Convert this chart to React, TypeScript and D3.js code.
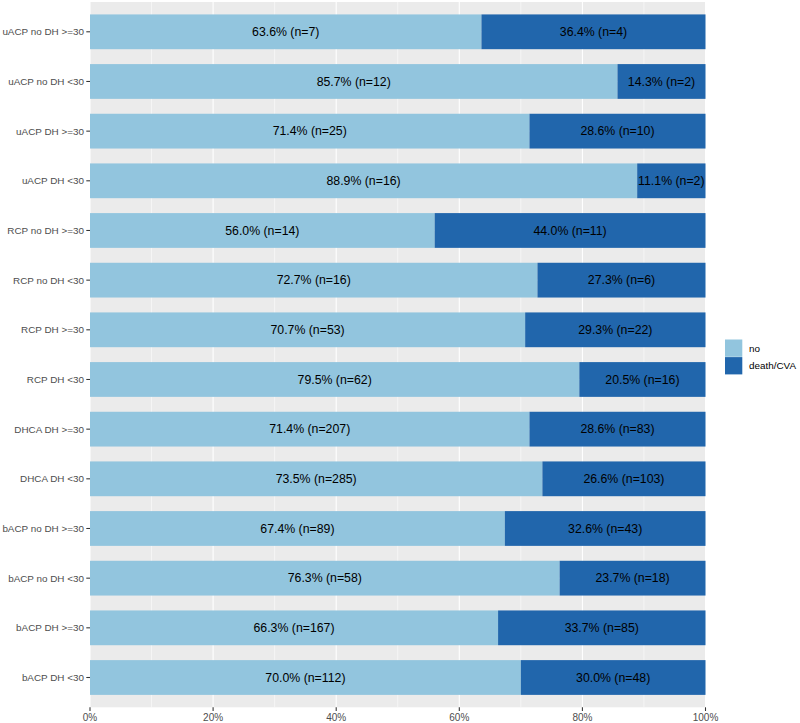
import React from "react";
import * as d3 from "d3";

const categories = [
  "uACP no DH >=30",
  "uACP no DH <30",
  "uACP DH >=30",
  "uACP DH <30",
  "RCP no DH >=30",
  "RCP no DH <30",
  "RCP DH >=30",
  "RCP DH <30",
  "DHCA DH >=30",
  "DHCA DH <30",
  "bACP no DH >=30",
  "bACP no DH <30",
  "bACP DH >=30",
  "bACP DH <30",
];
const noPct = [63.6, 85.7, 71.4, 88.9, 56.0, 72.7, 70.7, 79.5, 71.4, 73.5, 67.4, 76.3, 66.3, 70.0];
const noN = [7, 12, 25, 16, 14, 16, 53, 62, 207, 285, 89, 58, 167, 112];
const deathPct = [36.4, 14.3, 28.6, 11.1, 44.0, 27.3, 29.3, 20.5, 28.6, 26.6, 32.6, 23.7, 33.7, 30.0];
const deathN = [4, 2, 10, 2, 11, 6, 22, 16, 83, 103, 43, 18, 85, 48];
const seriesNames = ["no", "death/CVA"];
const seriesColors = ["#92C5DE", "#2166AC"];
const xTicks = [0, 0.2, 0.4, 0.6, 0.8, 1];
const xMinor = [0.1, 0.3, 0.5, 0.7, 0.9];

export default function App() {
  const W = 800, H = 723;
  const left = 90, right = 705.5, top = 2, bottom = 707.3;
  const x = d3.scaleLinear().domain([0, 1]).range([left, right]);
  const n = categories.length;
  const pitch = (bottom - top) / (n - 1 + 1.2);
  const yc = (i: number) => top + pitch * (0.6 + i);
  const barH = pitch * 0.7;
  const font = "'Liberation Sans', Arial, Helvetica, sans-serif";

  return (
    <svg width={W} height={H} style={{ position: "absolute", left: 0, top: 0 }} fontFamily={font}>
      <rect x={left} y={top} width={right - left} height={bottom - top} fill="#EBEBEB" />
      {categories.map((_, i) => (
        <line key={"hg" + i} x1={left} x2={right} y1={yc(i)} y2={yc(i)} stroke="#fff" strokeWidth={1.07} />
      ))}
      {xMinor.map((t) => (
        <line key={"mn" + t} x1={x(t)} x2={x(t)} y1={top} y2={bottom} stroke="#fff" strokeWidth={0.53} />
      ))}
      {xTicks.map((t) => (
        <line key={"mj" + t} x1={x(t)} x2={x(t)} y1={top} y2={bottom} stroke="#fff" strokeWidth={1.07} />
      ))}
      {categories.map((c, i) => {
        const a = noPct[i] / 100;
        const y0 = yc(i) - barH / 2;
        return (
          <g key={c}>
            <rect x={x(0)} y={y0} width={x(a) - x(0)} height={barH} fill={seriesColors[0]} />
            <rect x={x(a)} y={y0} width={x(1) - x(a)} height={barH} fill={seriesColors[1]} />
            <text x={(x(0) + x(a)) / 2} y={yc(i)} dy="0.35em" textAnchor="middle" fontSize={12.3} fill="#000">
              {noPct[i].toFixed(1)}% (n={noN[i]})
            </text>
            <text x={(x(a) + x(1)) / 2} y={yc(i)} dy="0.35em" textAnchor="middle" fontSize={12.3} fill="#000">
              {deathPct[i].toFixed(1)}% (n={deathN[i]})
            </text>
            <line x1={left - 3.7} x2={left} y1={yc(i)} y2={yc(i)} stroke="#333" strokeWidth={1.07} />
            <text x={left - 6} y={yc(i)} dy="0.35em" textAnchor="end" fontSize={9.9} fill="#4D4D4D">
              {c}
            </text>
          </g>
        );
      })}
      {xTicks.map((t) => (
        <g key={"xt" + t}>
          <line x1={x(t)} x2={x(t)} y1={bottom} y2={bottom + 3.7} stroke="#333" strokeWidth={1.07} />
          <text x={x(t)} y={bottom + 13.3} textAnchor="middle" fontSize={10} fill="#4D4D4D">
            {d3.format(".0%")(t)}
          </text>
        </g>
      ))}
      {seriesNames.map((s, k) => (
        <g key={s}>
          <rect x={725} y={339.5 + k * 17.6} width={17.3} height={17.3} fill={seriesColors[k]} />
          <text x={749} y={339.5 + k * 17.6 + 8.7} dy="0.35em" fontSize={9.9} fill="#000">
            {s}
          </text>
        </g>
      ))}
    </svg>
  );
}
